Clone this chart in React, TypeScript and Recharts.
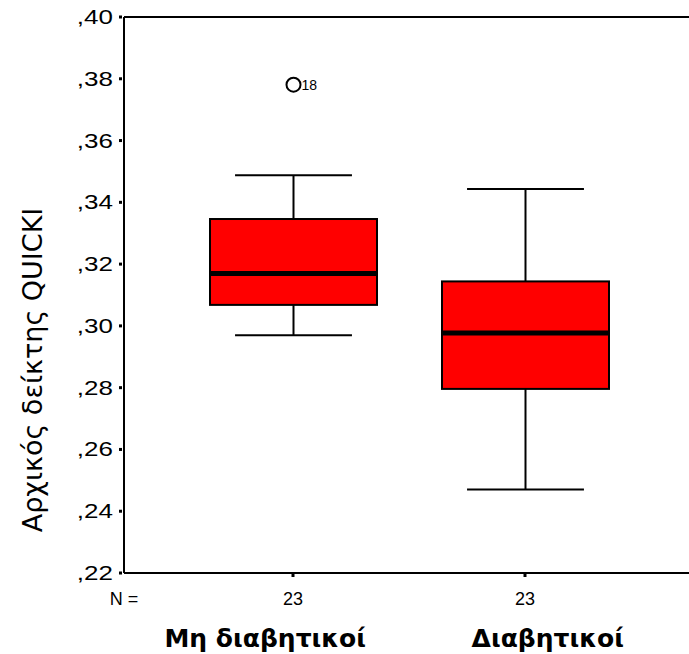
import { ComposedChart, Bar, Line, XAxis, YAxis, ReferenceLine } from 'recharts'

const categories = ['Μη διαβητικοί', 'Διαβητικοί']
const counts = [23, 23]
const whiskerLow = [0.297, 0.247]
const q1 = [0.3068, 0.2796]
const median = [0.317, 0.2977]
const q3 = [0.3346, 0.3144]
const whiskerHigh = [0.3488, 0.3443]
const outliers: { value: number; id: string }[][] = [[{ value: 0.3781, id: '18' }], []]
const yTicks = [0.22, 0.24, 0.26, 0.28, 0.3, 0.32, 0.34, 0.36, 0.38, 0.4]

const data = categories.map((c, i) => ({
  category: c,
  n: counts[i],
  box: [q1[i], q3[i]],
  lo: whiskerLow[i],
  q1: q1[i],
  median: median[i],
  q3: q3[i],
  hi: whiskerHigh[i],
  outliers: outliers[i],
}))

const ARIAL = 'Arial, "Liberation Sans", sans-serif'
const SANS = '"DejaVu Sans", Verdana, sans-serif'

function BoxShape(props: any) {
  const { x, y, width, height, payload } = props
  const top = Math.min(y, y + height)
  const h = Math.abs(height)
  const ppu = h / (payload.q3 - payload.q1)
  const toY = (v: number) => top + (payload.q3 - v) * ppu
  const cx = x + width / 2
  const cap = width * 0.35
  return (
    <g>
      <line x1={cx} x2={cx} y1={toY(payload.hi)} y2={top} stroke="#000" strokeWidth={2} />
      <line x1={cx} x2={cx} y1={top + h} y2={toY(payload.lo)} stroke="#000" strokeWidth={2} />
      <line x1={cx - cap} x2={cx + cap} y1={toY(payload.hi)} y2={toY(payload.hi)} stroke="#000" strokeWidth={2} />
      <line x1={cx - cap} x2={cx + cap} y1={toY(payload.lo)} y2={toY(payload.lo)} stroke="#000" strokeWidth={2} />
      <rect x={x} y={top} width={width} height={h} fill="#FF0000" stroke="#000" strokeWidth={2} />
      <line x1={x} x2={x + width} y1={toY(payload.median)} y2={toY(payload.median)} stroke="#000" strokeWidth={5} />
      {payload.outliers.map((o: { value: number; id: string }) => (
        <g key={o.id}>
          <circle cx={cx} cy={toY(o.value)} r={7} fill="#fff" stroke="#000" strokeWidth={2} />
          <text x={cx + 8} y={toY(o.value) + 5} fontSize={14} fontFamily={ARIAL} fill="#000">{o.id}</text>
        </g>
      ))}
    </g>
  )
}

function YTick({ x, y, payload }: any) {
  return (
    <g>
      <rect x={x + 6} y={y - 1.5} width={3} height={3} fill="#000" />
      <text transform={`translate(${x}, ${y + 7}) scale(1.3, 1)`} textAnchor="end" fontSize={20} fontFamily={ARIAL} fill="#000">
        {payload.value.toFixed(2).replace('0.', ',')}
      </text>
    </g>
  )
}

function NTick({ x, y, index }: any) {
  return (
    <g>
      <rect x={x - 1.5} y={y + 1} width={3} height={3} fill="#000" />
      <text x={x} y={y + 32} textAnchor="middle" fontSize={18} fontFamily={ARIAL} fill="#000">
        {counts[index]}
      </text>
    </g>
  )
}

function NameTick({ x, y, payload }: any) {
  return (
    <text x={x} y={y + 24} textAnchor="middle" fontSize={25} fontWeight="bold" fontFamily={SANS} fill="#000">
      {payload.value}
    </text>
  )
}

export default function App() {
  return (
    <div>
      <style>{'body{margin:0}'}</style>
      <ComposedChart width={689} height={654} data={data} margin={{ top: 17, right: 0, bottom: 0, left: 0 }}>
        <YAxis
          width={124}
          domain={[0.22, 0.4]}
          ticks={yTicks}
          type="number"
          allowDataOverflow
          axisLine={{ stroke: '#000', strokeWidth: 2 }}
          tickLine={false}
          tickSize={0}
          tickMargin={11}
          tick={<YTick />}
          label={{
            content: () => (
              <text transform="translate(42, 370) rotate(-90)" textAnchor="middle" fontSize={27} fontFamily={SANS} fill="#000">
                Αρχικός δείκτης QUICKI
              </text>
            ),
          }}
        />
        <XAxis
          dataKey="category"
          height={50}
          padding={{ left: 53, right: 48 }}
          axisLine={{ stroke: '#000', strokeWidth: 2 }}
          tickLine={false}
          tickSize={0}
          tickMargin={0}
          tick={<NTick />}
          interval={0}
          label={{
            content: (p: any) => (
              <text x={p.viewBox.x} y={p.viewBox.y + 32} textAnchor="middle" fontSize={18} fontFamily={ARIAL} fill="#000">
                N =
              </text>
            ),
          }}
        />
        <XAxis
          xAxisId="names"
          dataKey="category"
          height={31}
          axisLine={false}
          tickLine={false}
          tickSize={0}
          tickMargin={0}
          tick={<NameTick />}
          interval={0}
        />
        <ReferenceLine y={0.4} stroke="#000" strokeWidth={2} />
        <Bar dataKey="box" barSize={167} shape={<BoxShape />} isAnimationActive={false} />
        <Line xAxisId="names" dataKey="median" stroke="none" dot={false} activeDot={false} isAnimationActive={false} />
      </ComposedChart>
    </div>
  )
}
